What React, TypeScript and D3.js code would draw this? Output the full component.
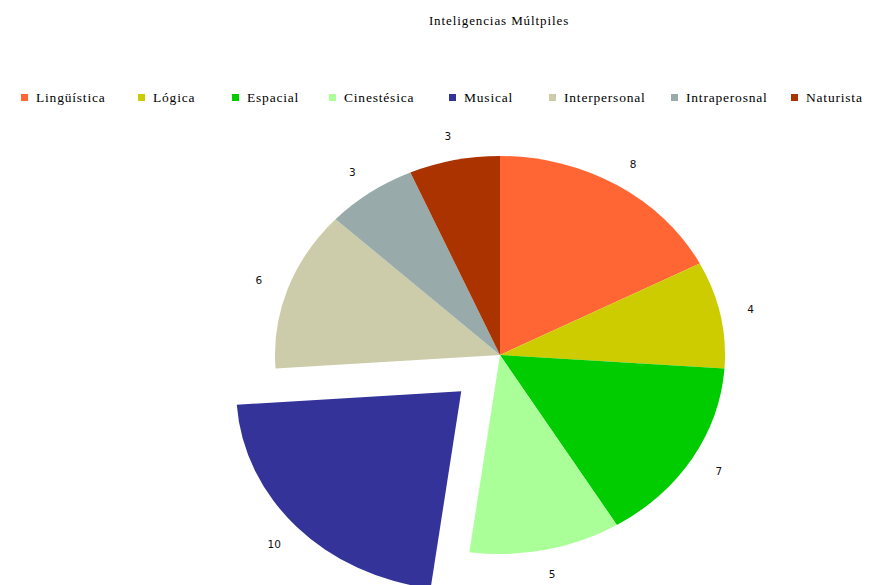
import React from "react";
import * as d3 from "d3";

const categories = ["Lingüística", "Lógica", "Espacial", "Cinestésica", "Musical", "Interpersonal", "Intraperosnal", "Naturista"];
const values = [8, 4, 7, 5, 10, 6, 3, 3];
const colors = ["#FF6633", "#CCCC00", "#00CC00", "#AAFF99", "#333399", "#CCCCAA", "#99AAAA", "#AA3300"];
const exploded = [false, false, false, false, true, false, false, false];
const title = "Inteligencias Múltpiles";

const W = 869, H = 585;
const cx = 500, cy = 355;
const rx = 225, ry = 199;
const labelRx = 256, labelRy = 224;
const explodeDist = 53;
const legendX = [21, 138, 232, 329, 449, 549, 671, 791];

export default function App() {
  const pie = d3.pie<number>().value((d) => d).sort(null);
  const arcs = pie(values);
  const arc = d3.arc<d3.PieArcDatum<number>>().innerRadius(0).outerRadius(ry);
  const sx = rx / ry;

  return (
    <svg width={W} height={H} style={{ position: "absolute", left: 0, top: 0, background: "#fff" }}>
      <text x={499} y={25} textAnchor="middle" fontFamily="Liberation Serif" fontSize={13} fill="#000" letterSpacing={0.9}>
        {title}
      </text>
      {categories.map((c, i) => (
        <g key={c}>
          <rect x={legendX[i]} y={94} width={7} height={7} fill={colors[i]} />
          <text x={legendX[i] + 15} y={102} fontFamily="Liberation Serif" fontSize={13.5} fill="#000" letterSpacing={0.8}>
            {c}
          </text>
        </g>
      ))}
      {arcs.map((a, i) => {
        const mid = (a.startAngle + a.endAngle) / 2;
        const ox = exploded[i] ? explodeDist * Math.sin(mid) : 0;
        const oy = exploded[i] ? -explodeDist * Math.cos(mid) : 0;
        const lx = cx + ox + labelRx * Math.sin(mid);
        const ly = cy + oy - labelRy * Math.cos(mid);
        return (
          <g key={i}>
            <g transform={`translate(${ox},${oy}) translate(${cx},${cy}) scale(${sx},1)`}>
              <path d={arc(a) || ""} fill={colors[i]} />
            </g>
            <text x={lx} y={ly + 1} textAnchor="middle" dominantBaseline="middle" fontFamily="DejaVu Sans" fontSize={10.5} fill="#111">
              {values[i]}
            </text>
          </g>
        );
      })}
    </svg>
  );
}
